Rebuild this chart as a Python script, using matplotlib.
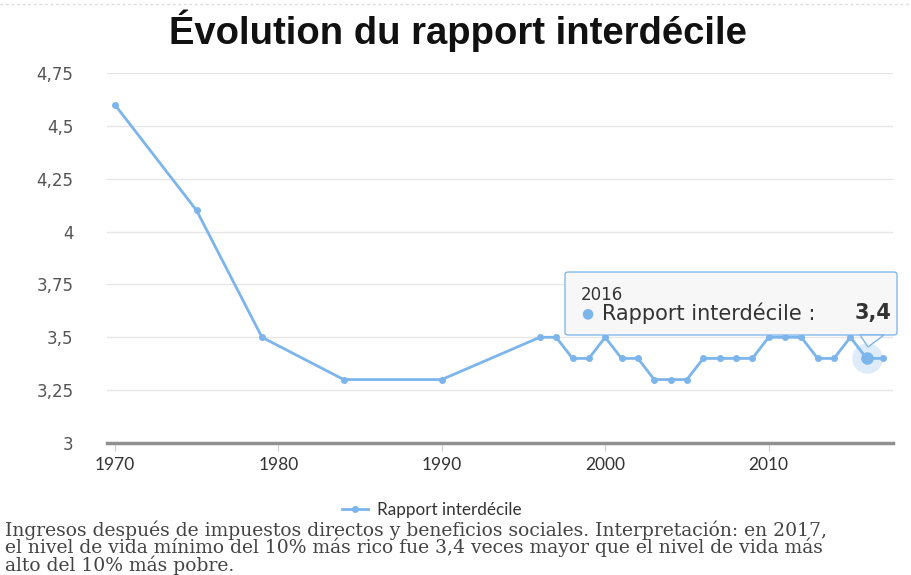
import matplotlib
matplotlib.use("Agg")
import matplotlib.pyplot as plt
from matplotlib.patches import FancyBboxPatch, Polygon
from matplotlib.ticker import FuncFormatter

# Données
years = [1970, 1975, 1979, 1984, 1990, 1996, 1997, 1998, 1999, 2000, 2001, 2002,
         2003, 2004, 2005, 2006, 2007, 2008, 2009, 2010, 2011, 2012, 2013, 2014,
         2015, 2016, 2017]
ratio = [4.6, 4.1, 3.5, 3.3, 3.3, 3.5, 3.5, 3.4, 3.4, 3.5, 3.4, 3.4,
         3.3, 3.3, 3.3, 3.4, 3.4, 3.4, 3.4, 3.5, 3.5, 3.5, 3.4, 3.4,
         3.5, 3.4, 3.4]
y_ticks = [3, 3.25, 3.5, 3.75, 4, 4.25, 4.5, 4.75]
x_ticks = [1970, 1980, 1990, 2000, 2010]
highlight_year = 2016
highlight_value = 3.4

title = "Évolution du rapport interdécile"
series_name = "Rapport interdécile"
caption = ["Ingresos después de impuestos directos y beneficios sociales. Interpretación: en 2017,",
           "el nivel de vida mínimo del 10% más rico fue 3,4 veces mayor que el nivel de vida más",
           "alto del 10% más pobre."]

blue = "#7cb5ec"

fig = plt.figure(figsize=(9.12, 5.75), dpi=100)
ax = fig.add_axes([0.117, 0.2296, 0.862, 0.6434])

ax.plot(years, ratio, color=blue, lw=2, marker="o", ms=4, label=series_name,
        solid_joinstyle="round", zorder=3)

# point survolé (halo)
hi = years.index(highlight_year)
ax.plot(years[hi], ratio[hi], "o", ms=22, color=blue, alpha=0.25, mec="none", zorder=2)
ax.plot(years[hi], ratio[hi], "o", ms=9, color=blue, mec="none", zorder=4)

ax.set_xlim(1969.5, 2017.6)
ax.set_ylim(3, 4.75)
ax.set_yticks(y_ticks)
ax.set_xticks(x_ticks)
ax.yaxis.set_major_formatter(FuncFormatter(lambda v, p: f"{v:g}".replace(".", ",")))
ax.grid(axis="y", color="#e6e6e6", lw=1)
ax.set_axisbelow(True)
for s in ["top", "right", "left"]:
    ax.spines[s].set_visible(False)
ax.spines["bottom"].set_color("#909090")
ax.spines["bottom"].set_linewidth(2.5)
ax.tick_params(axis="y", length=0, pad=24, labelsize=12, labelcolor="#555555")
ax.tick_params(axis="x", length=6, color="#cccccc", pad=4, labelsize=12.5, labelcolor="#333333")
for t in ax.get_xticklabels():
    t.set_fontfamily("Lato")
for t in ax.get_yticklabels():
    t.set_fontfamily("DejaVu Sans")

fig.text(0.502, 0.947, title, ha="center", va="center", fontsize=27.5,
         fontweight="bold", family="Liberation Sans", color="#111111")

# infobulle
tip = FancyBboxPatch((565 / 912, 1 - 335 / 575), 332 / 912, 63 / 575,
                     boxstyle="round,pad=0,rounding_size=0.004", transform=fig.transFigure,
                     fc="#f7f7f7", ec=blue, lw=1, alpha=0.95, zorder=10)
fig.add_artist(tip)
arrow = Polygon([(860 / 912, 1 - 335 / 575), (884 / 912, 1 - 335 / 575), (868 / 912, 1 - 347 / 575)],
                closed=True, transform=fig.transFigure, fc="#f7f7f7", ec=blue, lw=1, zorder=10)
fig.add_artist(arrow)
fig.text(581 / 912, 1 - 295 / 575, str(highlight_year), fontsize=12, color="#333333",
         va="center", zorder=11)
fig.text(581 / 912, 1 - 313 / 575, "●", fontsize=10, color=blue, va="center", zorder=11)
fig.text(602 / 912, 1 - 313 / 575, series_name + " : ", fontsize=15, color="#333333",
         va="center", zorder=11)
fig.text(891 / 912, 1 - 313 / 575, f"{highlight_value:g}".replace(".", ","), fontsize=15,
         fontweight="bold", color="#333333", va="center", ha="right", zorder=11)

fig.legend(loc="center", bbox_to_anchor=(0.4735, 0.113), frameon=False,
           prop={"family": "Lato", "size": 12.3}, handlelength=1.5, handletextpad=0.5,
           labelcolor="#333333")

fig.text(0.006, 1 - 571 / 575, "\n".join(caption), fontsize=13.5, family="DejaVu Serif",
         color="#444444", va="baseline", linespacing=0.88)

# bordure pointillée en haut
fig.add_artist(plt.Line2D([0, 1], [0.993, 0.993], transform=fig.transFigure,
                          color="#dddddd", lw=1, ls=(0, (2, 2))))

fig.savefig("out.png", dpi=100)
